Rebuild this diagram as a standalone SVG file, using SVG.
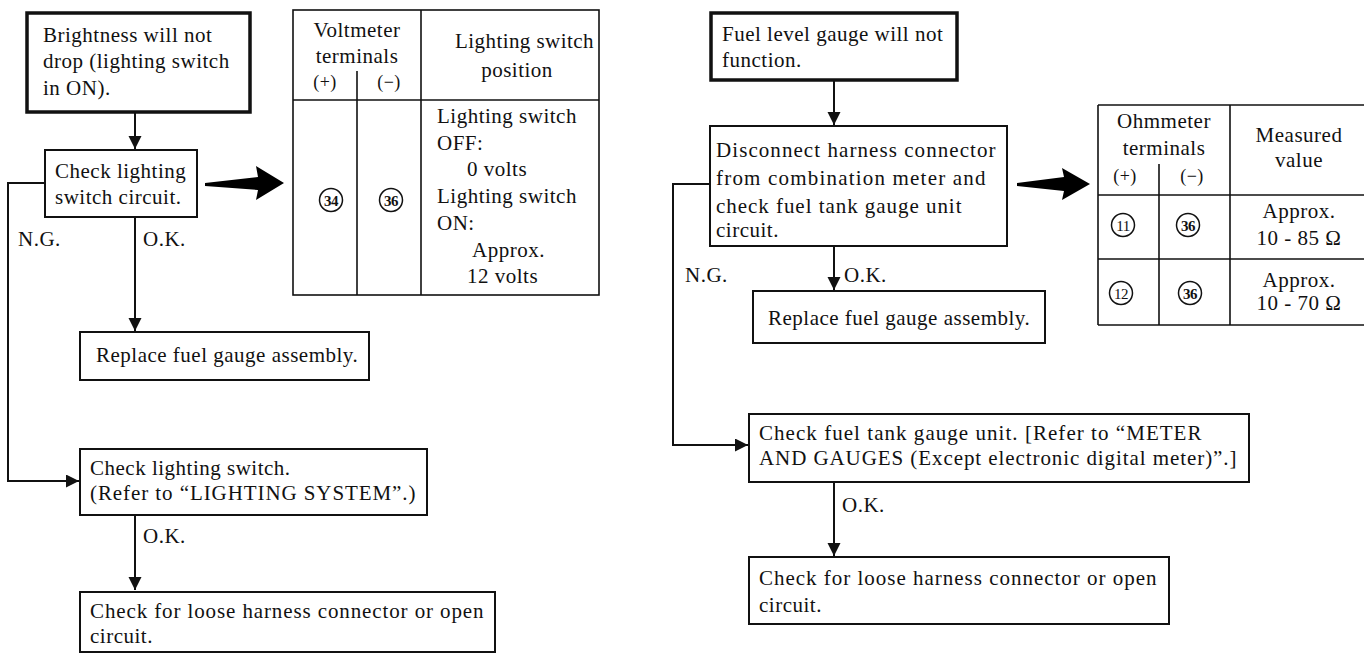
<svg xmlns="http://www.w3.org/2000/svg" width="1364" height="654" viewBox="0 0 1364 654" font-family="Liberation Serif, Times New Roman, serif">
<style>
text{font-size:21px;letter-spacing:0.5px;fill:#111}
.c{text-anchor:middle}
.sm{font-size:18px}
.box{fill:#fff;stroke:#111;stroke-width:2}
.thick{fill:#fff;stroke:#111;stroke-width:3.5}
.ln{fill:none;stroke:#111;stroke-width:2}
.tl{fill:none;stroke:#111;stroke-width:1.6}
.cir{fill:none;stroke:#111;stroke-width:1.5}
.num{font-size:15px;font-weight:bold;text-anchor:middle;letter-spacing:-0.5px}
.big{fill:#000}
</style>
<defs>
<marker id="ah" markerUnits="userSpaceOnUse" markerWidth="14" markerHeight="14" refX="13" refY="6.5" orient="auto">
<path d="M0,0 L13,6.5 L0,13 z" fill="#111"/>
</marker>
</defs>

<g id="connectors">
<line class="ln" x1="135" y1="112" x2="135" y2="149" marker-end="url(#ah)"/>
<polyline class="ln" points="45,183 8,183 8,481 79,481" marker-end="url(#ah)"/>
<line class="ln" x1="135" y1="217" x2="135" y2="331" marker-end="url(#ah)"/>
<line class="ln" x1="135" y1="515" x2="135" y2="590" marker-end="url(#ah)"/>
<polygon class="big" points="205,183 258,177 256,166 284,183 256,200 258,190 205,186"/>
<line class="ln" x1="834" y1="80" x2="834" y2="125" marker-end="url(#ah)"/>
<polyline class="ln" points="710,184 673,184 673,445 748,445" marker-end="url(#ah)"/>
<line class="ln" x1="834" y1="246" x2="834" y2="290" marker-end="url(#ah)"/>
<line class="ln" x1="834" y1="482" x2="834" y2="556" marker-end="url(#ah)"/>
<polygon class="big" points="1017,183 1064,177 1062,168 1090,184 1062,200 1064,191 1017,186"/>
<text x="18" y="246">N.G.</text>
<text x="143" y="246">O.K.</text>
<text x="143" y="543">O.K.</text>
<text x="685" y="282">N.G.</text>
<text x="844" y="282">O.K.</text>
<text x="842" y="512">O.K.</text>
</g>

<g id="n1">
<rect class="thick" x="27" y="13" width="223" height="99"/>
<text x="43" y="42">Brightness will not</text>
<text x="43" y="68">drop (lighting switch</text>
<text x="43" y="95">in ON).</text>
</g>

<g id="n2">
<rect class="box" x="45" y="150" width="152" height="67"/>
<text x="55" y="178">Check lighting</text>
<text x="55" y="204">switch circuit.</text>
</g>

<g id="table1">
<rect class="tl" x="293" y="10" width="306" height="285" fill="#fff"/>
<line class="tl" x1="293" y1="100" x2="599" y2="100"/>
<line class="tl" x1="421" y1="10" x2="421" y2="295"/>
<line class="tl" x1="357" y1="71" x2="357" y2="295"/>
<text class="c" x="357" y="37">Voltmeter</text>
<text class="c" x="357" y="63">terminals</text>
<text class="c sm" x="325" y="88">(+)</text>
<text class="c sm" x="389" y="88">(−)</text>
<text x="455" y="48" textLength="139">Lighting switch</text>
<text class="c" x="517" y="77">position</text>
<circle class="cir" cx="331" cy="200" r="11.5"/>
<text class="num" x="331" y="205.5">34</text>
<circle class="cir" cx="391" cy="200" r="11.5"/>
<text class="num" x="391" y="205.5">36</text>
<text x="437" y="123">Lighting switch</text>
<text x="437" y="150">OFF:</text>
<text x="467" y="176">0 volts</text>
<text x="437" y="203">Lighting switch</text>
<text x="437" y="230">ON:</text>
<text x="472" y="257">Approx.</text>
<text x="467" y="283">12 volts</text>
</g>

<g id="n3">
<rect class="box" x="80" y="332" width="289" height="48"/>
<text x="96" y="362">Replace fuel gauge assembly.</text>
</g>

<g id="n4">
<rect class="box" x="80" y="449" width="347" height="66"/>
<text x="90" y="475">Check lighting switch.</text>
<text x="90" y="500" textLength="326">(Refer to “LIGHTING SYSTEM”.)</text>
</g>

<g id="n5">
<rect class="box" x="80" y="592" width="415" height="60"/>
<text x="90" y="618" textLength="394">Check for loose harness connector or open</text>
<text x="90" y="643">circuit.</text>
</g>

<g id="r1">
<rect class="thick" x="711" y="13" width="246" height="67"/>
<text x="722" y="41">Fuel level gauge will not</text>
<text x="722" y="67">function.</text>
</g>

<g id="r2">
<rect class="box" x="710" y="126" width="297" height="120"/>
<text x="716" y="157" textLength="280">Disconnect harness connector</text>
<text x="716" y="185" textLength="270">from combination meter and</text>
<text x="716" y="213" textLength="246">check fuel tank gauge unit</text>
<text x="716" y="237">circuit.</text>
</g>

<g id="table2">
<line class="tl" x1="1098" y1="105" x2="1364" y2="105"/>
<line class="tl" x1="1098" y1="195" x2="1364" y2="195"/>
<line class="tl" x1="1098" y1="259" x2="1364" y2="259"/>
<line class="tl" x1="1098" y1="325" x2="1364" y2="325"/>
<line class="tl" x1="1098" y1="105" x2="1098" y2="325"/>
<line class="tl" x1="1159" y1="164" x2="1159" y2="325"/>
<line class="tl" x1="1230" y1="105" x2="1230" y2="325"/>
<text class="c" x="1164" y="128">Ohmmeter</text>
<text class="c" x="1164" y="155">terminals</text>
<text class="c sm" x="1125" y="182">(+)</text>
<text class="c sm" x="1192" y="182">(−)</text>
<text class="c" x="1299" y="142">Measured</text>
<text class="c" x="1299" y="167">value</text>
<circle class="cir" cx="1123" cy="225" r="11.5"/>
<text class="num" x="1123" y="230.5" style="font-weight:normal">11</text>
<circle class="cir" cx="1188" cy="225" r="11.5"/>
<text class="num" x="1188" y="230.5">36</text>
<text class="c" x="1299" y="218">Approx.</text>
<text class="c" x="1299" y="245">10 - 85 Ω</text>
<circle class="cir" cx="1121" cy="293" r="11.5"/>
<text class="num" x="1121" y="298.5" style="font-weight:normal">12</text>
<circle class="cir" cx="1190" cy="293" r="11.5"/>
<text class="num" x="1190" y="298.5">36</text>
<text class="c" x="1299" y="287">Approx.</text>
<text class="c" x="1299" y="310">10 - 70 Ω</text>
</g>

<g id="r3">
<rect class="box" x="753" y="291" width="292" height="52"/>
<text x="768" y="325">Replace fuel gauge assembly.</text>
</g>

<g id="r4">
<rect class="box" x="749" y="414" width="500" height="68"/>
<text x="759" y="440" textLength="443">Check fuel tank gauge unit. [Refer to “METER</text>
<text x="759" y="465" textLength="478">AND GAUGES (Except electronic digital meter)”.]</text>
</g>

<g id="r5">
<rect class="box" x="749" y="557" width="420" height="67"/>
<text x="759" y="585" textLength="398">Check for loose harness connector or open</text>
<text x="759" y="612">circuit.</text>
</g>
</svg>
